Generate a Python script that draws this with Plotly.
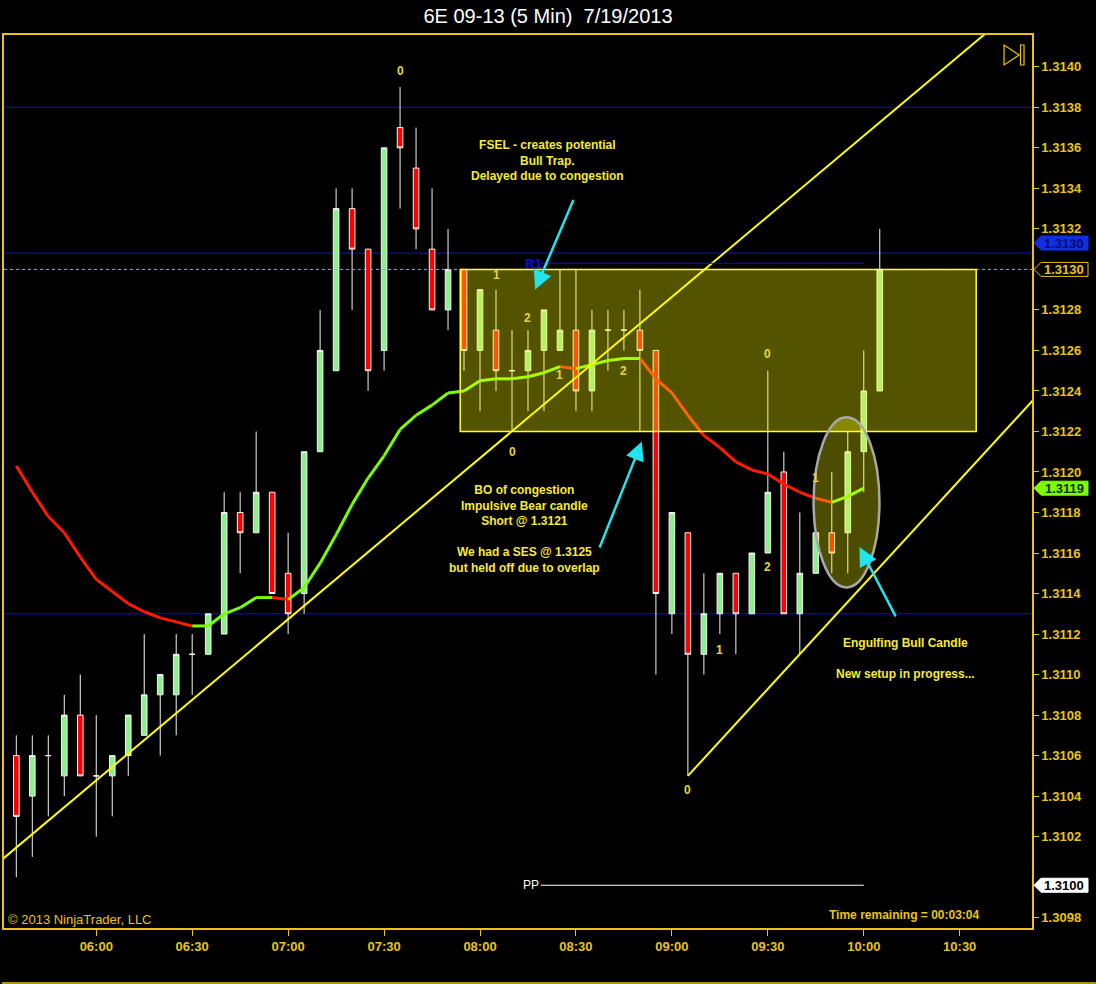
import plotly.graph_objects as go
import pandas as pd

DAY = "2013-07-19"
# ---------------- data ----------------
bar_times = pd.date_range(f"{DAY} 05:35", periods=55, freq="5min")
opens = [1.3106, 1.3104, 1.3106, 1.3105, 1.3108, 1.3105, 1.3105, 1.3106, 1.3107, 1.3109,
         1.3109, 1.3111, 1.3111, 1.3112, 1.3118, 1.3117, 1.3119, 1.3115, 1.3114, 1.3121,
         1.3125, 1.3133, 1.3131, 1.3126, 1.3137, 1.3135, 1.3131, 1.3128, 1.3130, 1.3126,
         1.3127, 1.3125, 1.3125, 1.3126, 1.3126, 1.3127, 1.3124, 1.3127, 1.3127, 1.3127,
         1.3126, 1.3113, 1.3117, 1.3111, 1.3113, 1.3115, 1.3113, 1.3116, 1.3120, 1.3113,
         1.3115, 1.3117, 1.3117, 1.3121, 1.3124]
highs = [1.3107, 1.3107, 1.3107, 1.3109, 1.3110, 1.3108, 1.3106, 1.3108, 1.3112, 1.3110,
         1.3112, 1.3112, 1.3113, 1.3119, 1.3119, 1.3122, 1.3119, 1.3117, 1.3121, 1.3128,
         1.3134, 1.3134, 1.3131, 1.3136, 1.3139, 1.3137, 1.3134, 1.3132, 1.3130, 1.3129,
         1.3129, 1.3127, 1.3127, 1.3128, 1.3130, 1.3130, 1.3128, 1.3128, 1.3128, 1.3129,
         1.3126, 1.3118, 1.3117, 1.3115, 1.3115, 1.3115, 1.3116, 1.3125, 1.3121, 1.3118,
         1.3117, 1.3120, 1.3122, 1.3126, 1.3132]
lows = [1.3100, 1.3101, 1.3103, 1.3104, 1.3105, 1.3102, 1.3103, 1.3105, 1.3107, 1.3106,
        1.3107, 1.3109, 1.3111, 1.3112, 1.3115, 1.3117, 1.3114, 1.3112, 1.3113, 1.3121,
        1.3125, 1.3128, 1.3124, 1.3125, 1.3133, 1.3131, 1.3128, 1.3127, 1.3125, 1.3123,
        1.3124, 1.3122, 1.3123, 1.3123, 1.3126, 1.3123, 1.3123, 1.3125, 1.3126, 1.3122,
        1.3110, 1.3112, 1.3105, 1.3110, 1.3112, 1.3111, 1.3113, 1.3116, 1.3113, 1.3111,
        1.3115, 1.3115, 1.3115, 1.3119, 1.3124]
closes = [1.3103, 1.3106, 1.3106, 1.3108, 1.3105, 1.3105, 1.3106, 1.3108, 1.3109, 1.3110,
          1.3111, 1.3111, 1.3113, 1.3118, 1.3117, 1.3119, 1.3114, 1.3113, 1.3121, 1.3126,
          1.3133, 1.3131, 1.3125, 1.3136, 1.3136, 1.3132, 1.3128, 1.3130, 1.3126, 1.3129,
          1.3125, 1.3125, 1.3126, 1.3128, 1.3127, 1.3124, 1.3127, 1.3127, 1.3127, 1.3126,
          1.3114, 1.3118, 1.3111, 1.3113, 1.3115, 1.3113, 1.3116, 1.3119, 1.3113, 1.3115,
          1.3117, 1.3116, 1.3121, 1.3124, 1.3130]
ma_values = [1.31203, 1.31190, 1.31178, 1.31170, 1.31158, 1.31147, 1.31141, 1.31135, 1.31131, 1.31128,
             1.31126, 1.31124, 1.31124, 1.31130, 1.31133, 1.31138, 1.31138, 1.31137, 1.31143, 1.31155,
             1.31169, 1.31184, 1.31197, 1.31208, 1.31221, 1.31228, 1.31233, 1.31239, 1.31240, 1.31245,
             1.31246, 1.31246, 1.31247, 1.31249, 1.31252, 1.31251, 1.31253, 1.31255, 1.31256, 1.31256,
             1.31246, 1.31239, 1.31228, 1.31218, 1.31212, 1.31205, 1.31201, 1.31199, 1.31194, 1.31190,
             1.31187, 1.31185, 1.31188, 1.31192]

# levels
full_width_levels = [1.3138, 1.31308, 1.3113]
last_price = 1.3130
r1_level, pp_level = 1.31303, 1.30996
pivot_span = [f"{DAY} 08:19", f"{DAY} 10:00"]

# drawings (time, price)
trend1_t = [f"{DAY} 05:30", f"{DAY} 10:40"]
trend1_p = [1.31008, 1.31419]
trend2_t = [f"{DAY} 09:05", f"{DAY} 10:55"]
trend2_p = [1.3105, 1.31239]
zone_t = [f"{DAY} 07:53:48", f"{DAY} 10:35:09"]
zone_p = [1.3122, 1.3130]
ellipse_t = [f"{DAY} 09:44:18", f"{DAY} 10:04:54"]
ellipse_p = [1.31143, 1.31227]

swing_labels = ["0", "1", "2", "1", "2", "0", "0", "2", "1", "0", "1"]
swing_t = ["07:35", "08:05", "08:15", "08:25", "08:45", "08:10", "09:30", "09:30", "09:15", "09:05", "09:45"]
swing_p = [1.31398, 1.31297, 1.31276, 1.31248, 1.31250, 1.31210, 1.31258, 1.31153, 1.31112, 1.31043, 1.31197]

notes = ["FSEL - creates potential<br>Bull Trap.<br>Delayed due to congestion",
         "BO of congestion<br>Impulsive Bear candle<br>Short @ 1.3121<br><br>We had a SES @ 1.3125<br>but held off due to overlap",
         "Engulfing Bull Candle<br><br>New setup in progress..."]
notes_t = ["08:21:15", "08:13:45", "10:13:00"]
notes_p = [1.31354, 1.31172, 1.31108]

arrow_head_t = ["08:17:13", "08:50:36", "09:58:39"]
arrow_head_p = [1.31290, 1.31215, 1.31163]
arrow_tail_t = ["08:29:24", "08:37:12", "10:10:12"]
arrow_tail_p = [1.31335, 1.31162, 1.31128]

x_ticks = ["06:00", "06:30", "07:00", "07:30", "08:00", "08:30", "09:00", "09:30", "10:00", "10:30"]
y_ticks = [1.3098, 1.3102, 1.3104, 1.3106, 1.3108, 1.3110, 1.3112, 1.3114, 1.3116, 1.3118,
           1.3120, 1.3122, 1.3124, 1.3126, 1.3128, 1.3132, 1.3134, 1.3136, 1.3138, 1.3140]
x_range = [f"{DAY} 05:31:09", f"{DAY} 10:52:36"]
y_range = [1.309749, 1.314157]

# ---------------- style ----------------
GOLD = "#E8C418"
TXT_Y = "#F6EA3A"
NUMC = "#E8D43C"
CYAN = "#22E4EC"
BLUE = "#0A0AF0"
BOLD = "Liberation Sans"
NARROW = "Liberation Sans Narrow, Liberation Sans, Arial"

def T(s):
    return f"{DAY} {s}" if len(s) <= 8 else s

fig = go.Figure()

# candles
fig.add_trace(go.Candlestick(
    x=bar_times, open=opens, high=highs, low=lows, close=closes,
    increasing=dict(fillcolor="#90EE90", line=dict(color="#F4F4F4", width=1)),
    decreasing=dict(fillcolor="#FF0000", line=dict(color="#F4F4F4", width=1)),
    whiskerwidth=0, hoverinfo="skip", showlegend=False))

# MA coloured segments
ma_t = list(bar_times[:len(ma_values)])
seg = {"#FF1A00": ([], []), "#7CFC00": ([], [])}
for i in range(1, len(ma_values)):
    col = "#7CFC00" if ma_values[i] >= ma_values[i - 1] else "#FF1A00"
    xs, ys = seg[col]
    xs += [ma_t[i - 1], ma_t[i], None]
    ys += [ma_values[i - 1], ma_values[i], None]
for col, (xs, ys) in seg.items():
    fig.add_trace(go.Scatter(x=xs, y=ys, mode="lines", line=dict(color=col, width=3),
                             hoverinfo="skip", showlegend=False, connectgaps=False))

# trend lines
for tt, pp in ((trend1_t, trend1_p), (trend2_t, trend2_p)):
    fig.add_trace(go.Scatter(x=tt, y=pp, mode="lines", line=dict(color="#FFFF00", width=2),
                             hoverinfo="skip", showlegend=False))

# pivot short lines
fig.add_trace(go.Scatter(x=pivot_span, y=[r1_level] * 2, mode="lines",
                         line=dict(color=BLUE, width=1), hoverinfo="skip", showlegend=False))
fig.add_trace(go.Scatter(x=pivot_span, y=[pp_level] * 2, mode="lines",
                         line=dict(color="#FFFFFF", width=1), hoverinfo="skip", showlegend=False))

shapes = []
for lv in full_width_levels:
    shapes.append(dict(type="line", xref="paper", x0=0, x1=1, yref="y", y0=lv, y1=lv,
                       line=dict(color=BLUE, width=1), layer="below"))
shapes.append(dict(type="line", xref="paper", x0=0, x1=1, yref="y", y0=last_price, y1=last_price,
                   line=dict(color="#3FD8D0", width=1, dash="dot"), layer="above"))
# congestion zone
shapes.append(dict(type="rect", xref="x", yref="y", x0=zone_t[0], x1=zone_t[1], y0=zone_p[0], y1=zone_p[1],
                   fillcolor="rgba(255,255,0,0.33)", line=dict(color="#FFFF40", width=1.5), layer="above"))
# ellipse
shapes.append(dict(type="circle", xref="x", yref="y", x0=ellipse_t[0], x1=ellipse_t[1],
                   y0=ellipse_p[0], y1=ellipse_p[1],
                   fillcolor="rgba(255,255,0,0.30)", line=dict(color="#A8A8A8", width=2.5), layer="above"))

# plot-area geometry (pixels) for paper conversions
L, R, TOP, BOT = 2, 1032, 35, 928
def px(xp):
    return (xp - L) / (R - L)
def py(yp):
    return 1 - (yp - TOP) / (BOT - TOP)

# play-to-end icon
shapes.append(dict(type="path", xref="paper", yref="paper",
                   path=f"M {px(1004)},{py(45)} L {px(1004)},{py(65)} L {px(1019)},{py(55)} Z",
                   line=dict(color=GOLD, width=1.2), fillcolor="rgba(0,0,0,0)"))
shapes.append(dict(type="rect", xref="paper", yref="paper", x0=px(1020.5), x1=px(1024), y0=py(45), y1=py(65),
                   line=dict(color=GOLD, width=1.2), fillcolor="rgba(0,0,0,0)"))
# outer bottom border
shapes.append(dict(type="line", xref="paper", yref="paper", x0=px(0), x1=px(1096), y0=py(983), y1=py(983),
                   line=dict(color=GOLD, width=1.5)))

# price tags on the axis
tags = [(1.31313, "1.3130", "#1030E0", "#1030E0", "#0A0A70"),
        (last_price, "1.3130", "#000000", GOLD, GOLD),
        (ma_values[-1], "1.3119", "#7CFC00", "#7CFC00", "#123000"),
        (pp_level, "1.3100", "#FFFFFF", "#FFFFFF", "#000000")]
annotations = []
for val, txt, fill, border, tcol in tags:
    shapes.append(dict(type="path", xref="paper", yref="y", xsizemode="pixel", ysizemode="pixel",
                       xanchor=1, yanchor=val, path="M 2,0 L 9,7 L 56,7 L 56,-7 L 9,-7 Z",
                       fillcolor=fill, line=dict(color=border, width=1)))
    annotations.append(dict(xref="paper", yref="y", x=1, y=val, xshift=32, text=f"<b>{txt}</b>",
                            showarrow=False, font=dict(family=BOLD, size=13, color=tcol),
                            xanchor="center", yanchor="middle"))

# swing numbers
for lab, t, p in zip(swing_labels, swing_t, swing_p):
    annotations.append(dict(x=T(t), y=p, text=f"<b>{lab}</b>", showarrow=False,
                            font=dict(family=BOLD, size=12, color=NUMC)))
# notes
for txt, t, p in zip(notes, notes_t, notes_p):
    annotations.append(dict(x=T(t), y=p, text=f"<b>{txt}</b>", showarrow=False, align="center",
                            font=dict(family=BOLD, size=12, color=TXT_Y)))
# arrows
for ht, hp, tt, tp in zip(arrow_head_t, arrow_head_p, arrow_tail_t, arrow_tail_p):
    annotations.append(dict(x=T(ht), y=hp, ax=T(tt), ay=tp, axref="x", ayref="y", text="",
                            showarrow=True, arrowhead=2, arrowsize=1.5, arrowwidth=2.5, arrowcolor=CYAN))
# pivot labels
annotations.append(dict(x=T("08:16:36"), y=r1_level, text="<b>R1</b>", showarrow=False,
                        font=dict(family=BOLD, size=13, color=BLUE)))
annotations.append(dict(x=T("08:16:00"), y=pp_level, text="PP", showarrow=False,
                        font=dict(family=BOLD, size=12, color="#FFFFFF")))
# footer texts
annotations.append(dict(xref="paper", yref="paper", x=px(4), y=py(919), text="© 2013 NinjaTrader, LLC",
                        showarrow=False, xanchor="left", yanchor="middle",
                        font=dict(family=NARROW, size=13, color=GOLD)))
annotations.append(dict(xref="paper", yref="paper", x=px(982), y=py(915), text="<b>Time remaining = 00:03:04</b>",
                        showarrow=False, xanchor="right", yanchor="middle",
                        font=dict(family=BOLD, size=12, color=GOLD)))

fig.update_layout(
    width=1096, height=984,
    paper_bgcolor="#000000", plot_bgcolor="#000000",
    margin=dict(l=L, r=1096 - R, t=TOP, b=984 - BOT),
    title=dict(text="6E 09-13 (5 Min)  7/19/2013", x=0.5, xref="container", xanchor="center",
               y=1 - 16 / 984, yanchor="middle",
               font=dict(family=NARROW, size=20, color="#FFFFFF")),
    showlegend=False, hovermode=False,
    boxgap=0.5, boxgroupgap=0.3,
    shapes=shapes, annotations=annotations,
    xaxis=dict(type="date", range=x_range, rangeslider=dict(visible=False),
               tickvals=[T(t) for t in x_ticks], ticktext=x_ticks,
               showgrid=False, zeroline=False, showline=True, linecolor=GOLD, linewidth=1.5, mirror=True,
               ticks="outside", ticklen=6, tickcolor=GOLD,
               tickfont=dict(family=NARROW, size=13, color=GOLD, weight="bold")),
    yaxis=dict(range=y_range, side="right", tickvals=y_ticks, ticktext=[f"{v:.4f}" for v in y_ticks],
               showgrid=False, zeroline=False, showline=True, linecolor=GOLD, linewidth=1.5, mirror=True,
               ticks="outside", ticklen=5, tickcolor=GOLD,
               tickfont=dict(family=BOLD, size=13, color=GOLD, weight="bold")),
)

fig.write_html("out.html", config={"displayModeBar": False},
               post_script="document.body.style.margin='0';document.body.style.padding='0';"
                           "document.body.style.background='#000';document.body.style.overflow='hidden';")
